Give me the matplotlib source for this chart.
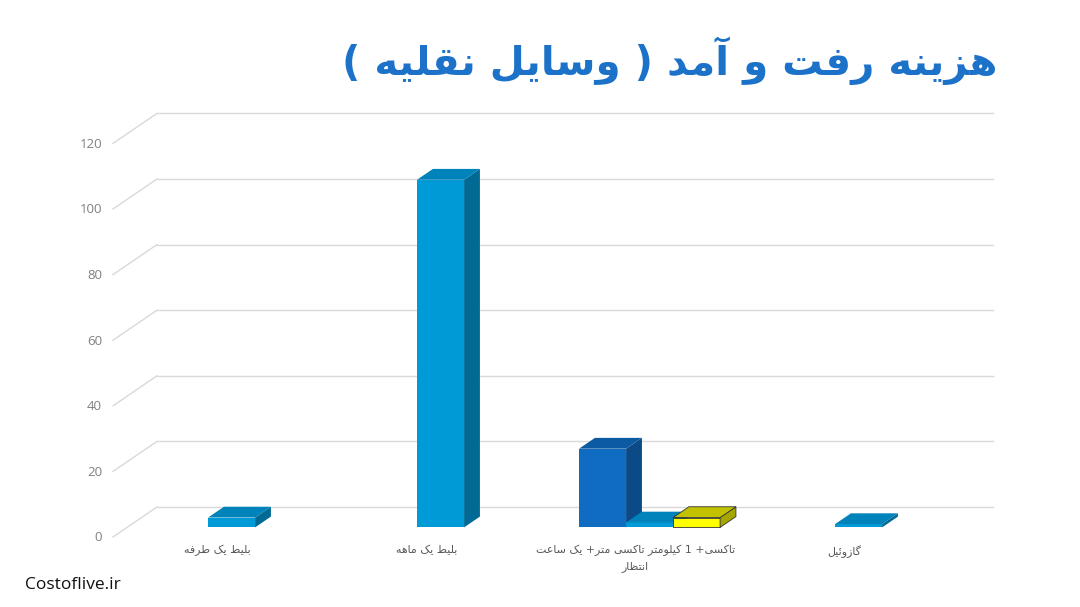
import matplotlib
matplotlib.use("Agg")
import matplotlib.pyplot as plt
from matplotlib.patches import Polygon

# ---------------- data ----------------
title_text = "هزینه رفت و آمد ( وسایل نقلیه )"
categories = ["بلیط یک طرفه", "بلیط یک ماهه",
              "تاکسی+ 1 کیلومتر تاکسی متر+ یک ساعت\nانتظار", "گازوئیل"]
series_a = [None, None, 24, None]      # dark blue (slot 0)
series_b = [3, 106, 1.5, 1]            # light blue (slot 1)
series_c = [None, None, 3, None]       # yellow (slot 2)
y_ticks = [0, 20, 40, 60, 80, 100, 120]
watermark = "Costoflive.ir"

# ---------------- minimal Persian shaping ----------------
AR_FORMS = {
    '\u0622': ('\uFE81', '\uFE82'),
    '\u0627': ('\uFE8D', '\uFE8E'),
    '\u0628': ('\uFE8F', '\uFE90', '\uFE91', '\uFE92'),
    '\u062A': ('\uFE95', '\uFE96', '\uFE97', '\uFE98'),
    '\u0626': ('\uFE89', '\uFE8A', '\uFE8B', '\uFE8C'),
    '\u062F': ('\uFEA9', '\uFEAA'),
    '\u0631': ('\uFEAD', '\uFEAE'),
    '\u0632': ('\uFEAF', '\uFEB0'),
    '\u0633': ('\uFEB1', '\uFEB2', '\uFEB3', '\uFEB4'),
    '\u0637': ('\uFEC1', '\uFEC2', '\uFEC3', '\uFEC4'),
    '\u0638': ('\uFEC5', '\uFEC6', '\uFEC7', '\uFEC8'),
    '\u0639': ('\uFEC9', '\uFECA', '\uFECB', '\uFECC'),
    '\u0641': ('\uFED1', '\uFED2', '\uFED3', '\uFED4'),
    '\u0642': ('\uFED5', '\uFED6', '\uFED7', '\uFED8'),
    '\u0644': ('\uFEDD', '\uFEDE', '\uFEDF', '\uFEE0'),
    '\u0645': ('\uFEE1', '\uFEE2', '\uFEE3', '\uFEE4'),
    '\u0646': ('\uFEE5', '\uFEE6', '\uFEE7', '\uFEE8'),
    '\u0647': ('\uFEE9', '\uFEEA', '\uFEEB', '\uFEEC'),
    '\u0648': ('\uFEED', '\uFEEE'),
    '\u06A9': ('\uFB8E', '\uFB8F', '\uFB90', '\uFB91'),
    '\u06AF': ('\uFB92', '\uFB93', '\uFB94', '\uFB95'),
    '\u06CC': ('\uFBFC', '\uFBFD', '\uFBFE', '\uFBFF'),
}
NORM = {'\u064A': '\u06CC', '\u0643': '\u06A9'}
MIRROR = {"(": ")", ")": "("}


def shape_token_rtl(tok):
    """Contextual forms, then whole token reversed (digit runs kept LTR)."""
    tok = "".join(NORM.get(c, c) for c in tok)
    glyphs = []
    n = len(tok)
    for i, c in enumerate(tok):
        f = AR_FORMS.get(c)
        if f is None:
            glyphs.append(MIRROR.get(c, c))
            continue
        prev = tok[i - 1] if i > 0 else None
        nxt = tok[i + 1] if i < n - 1 else None
        jp = prev is not None and prev in AR_FORMS and len(AR_FORMS[prev]) == 4
        jn = len(f) == 4 and nxt is not None and nxt in AR_FORMS
        g = f[3] if (jp and jn) else f[1] if jp else f[2] if jn else f[0]
        glyphs.append(g)
    glyphs = glyphs[::-1]
    out, run = [], []
    for g in glyphs:
        if g.isdigit():
            run.append(g)
        else:
            out.extend(reversed(run)); run = []
            out.append(g)
    out.extend(reversed(run))
    return "".join(out)


def fa_rtl(s):
    lines = []
    for line in s.split("\n"):
        toks = [shape_token_rtl(t) for t in line.split(" ")]
        lines.append(" ".join(reversed(toks)))
    return "\n".join(lines)


# ---------------- figure / projection ----------------
W, H, DPI = 1080, 607, 100
fig = plt.figure(figsize=(W / DPI, H / DPI), dpi=DPI)
ax = fig.add_axes([0, 0, 1, 1])
PX_X = 209.0           # pixels per category
PX_V = 3.28            # pixels per value unit
X0_PX, Y0_PX = 113.0, 537.0
ax.set_xlim(-X0_PX / PX_X, (W - X0_PX) / PX_X)
ax.set_ylim((Y0_PX - H) / PX_V, Y0_PX / PX_V)
ax.axis("off")

DX = 44.0 / PX_X       # depth offset (x, category units)
DY = 30.0 / PX_V       # depth offset (y, value units)
n_cat = len(categories)

# gridlines (back wall + floor diagonals)
grid_c = "#D9D9D9"
for v in y_ticks:
    ax.plot([DX, n_cat + DX], [v + DY, v + DY], color=grid_c, lw=1.0, zorder=1)
    ax.plot([0, DX], [v, v + DY], color=grid_c, lw=1.0, zorder=1)
    ax.text(-11 / PX_X, v - 0.3, str(v), ha="right", va="center", fontsize=9.5,
            color="#808080", family="Open Sans")

# bars
SLOT_W = 47.0 / PX_X
GAP = 34.0 / PX_X
Z0, Z1 = 0.32, 0.68
styles = [
    dict(front="#0F6CC1", side="#0B4A86", top="#0C5AA2", edge="none"),
    dict(front="#009AD7", side="#006A95", top="#0082BA", edge="none"),
    dict(front="#FFFF00", side="#A6A600", top="#C2C200", edge="#333333"),
]
all_series = [series_a, series_b, series_c]
for i in range(n_cat):
    for s, ser in enumerate(all_series):
        v = ser[i]
        if v is None:
            continue
        st = styles[s]
        x0 = i + GAP + s * SLOT_W
        fx, fy = x0 + Z0 * DX, Z0 * DY
        bx, by = x0 + Z1 * DX, Z1 * DY
        lw = 0.6 if st["edge"] != "none" else 0
        ax.bar(fx, v, width=SLOT_W, bottom=fy, align="edge", color=st["front"],
               edgecolor=st["edge"], linewidth=lw, zorder=3)
        side = Polygon([(fx + SLOT_W, fy), (bx + SLOT_W, by), (bx + SLOT_W, by + v),
                        (fx + SLOT_W, fy + v)], closed=True, facecolor=st["side"],
                       edgecolor=st["edge"], linewidth=lw, zorder=3)
        top = Polygon([(fx, fy + v), (fx + SLOT_W, fy + v), (bx + SLOT_W, by + v),
                       (bx, by + v)], closed=True, facecolor=st["top"],
                      edgecolor=st["edge"], linewidth=lw, zorder=3)
        ax.add_patch(side)
        ax.add_patch(top)

# category labels
for i, c in enumerate(categories):
    ax.text(i + 0.5, -(545 - Y0_PX) / PX_V, fa_rtl(c), ha="center", va="top",
            fontsize=7.9, color="#595959", family="DejaVu Sans", linespacing=1.6)

# title
fig.text(997 / W, 1 - 61 / H, fa_rtl(title_text), ha="right", va="center",
         fontsize=29, fontweight="bold", color="#1C72C8", family="DejaVu Sans")

# watermark
fig.text(25 / W, 1 - 585 / H, watermark, ha="left", va="center", fontsize=12.5,
         color="#111111", family="Open Sans")

fig.savefig("out.png", dpi=DPI, facecolor="white")
